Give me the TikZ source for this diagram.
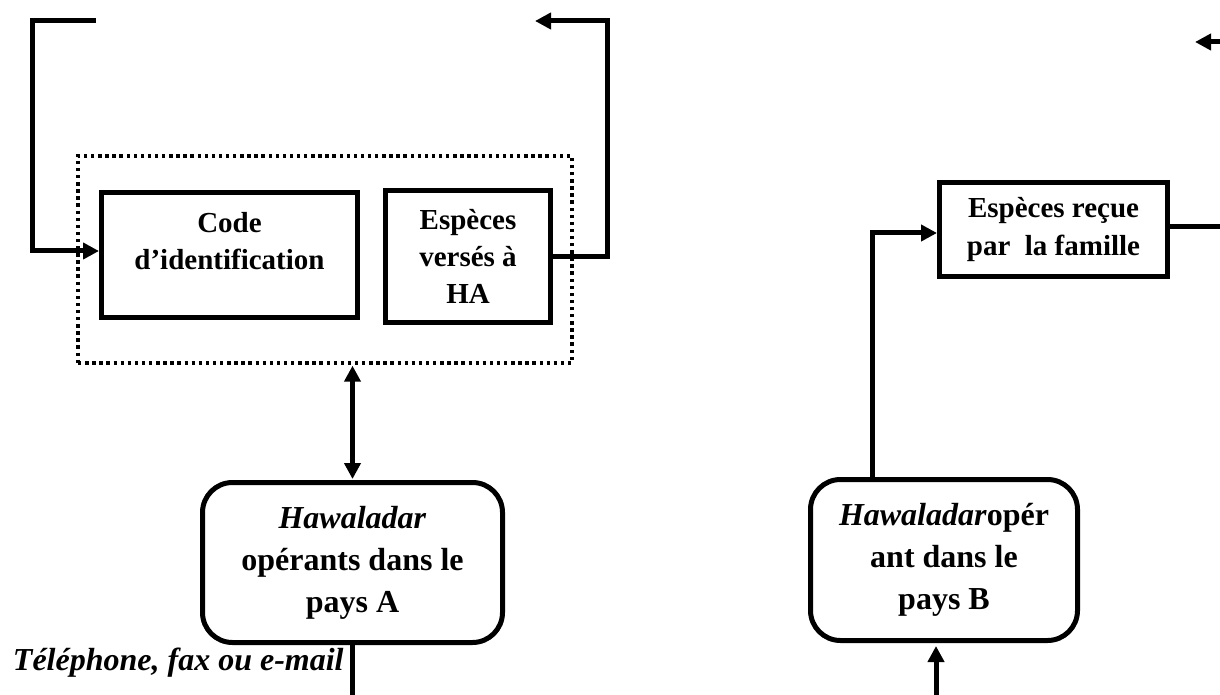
\documentclass[tikz,border=0pt]{standalone}
\usepackage{fontspec}
\setmainfont{Liberation Serif}
\usetikzlibrary{arrows.meta,calc}
\begin{document}
\begin{tikzpicture}[x=0.5pt,y=-0.5pt,
  conn/.style={line width=2.5pt},
  tri/.tip={Triangle[length=8pt,width=8pt]},
  sqbox/.style={draw,line width=2.5pt,rectangle,inner sep=0pt,align=center,
    font=\fontsize{14.5}{18.6}\selectfont\bfseries},
  rbox/.style={draw,line width=2.5pt,rectangle,rounded corners=15pt,inner sep=0pt,align=center,
    font=\fontsize{16}{21}\selectfont\bfseries},
  grp/.style={draw,line width=1.7pt,dash pattern=on 1.7pt off 1.85pt,rectangle,inner sep=0pt},
  txt/.style={align=center,inner sep=0pt,font=\fontsize{14.5}{18.6}\selectfont\bfseries},
  lbl/.style={inner sep=0pt,font=\fontsize{16}{21}\selectfont\bfseries\itshape}
]
\useasboundingbox (0,0) rectangle (1220,695);

% group (dotted)
\node[grp, minimum width=247pt, minimum height=103.5pt] (group) at (325,259.5) {};

% top boxes
\node[sqbox, minimum width=128pt, minimum height=62.5pt] (code) at (229.5,255) {};
\node[txt] (codetxt) at (229.5,241) {Code\\d’identification};
\node[sqbox, minimum width=82.5pt, minimum height=66pt] (esp) at (468,256.5) {Espèces\\versés à\\HA};

% hawaladar boxes
\node[rbox, minimum width=150pt, minimum height=80pt] (hA) at (352.5,562.5)
  {\textit{Hawaladar}\\opérants dans le\\pays A};
\node[rbox, minimum width=133.5pt, minimum height=80.5pt] (hB) at (944,560)
  {\textit{Hawaladar}opér\\ant dans le\\pays B};

% box received
\node[sqbox, minimum width=114pt, minimum height=47pt] (recue) at (1053.5,229.5)
  {Espèces reçue\\par\ \ la famille};

% label
\node[lbl, anchor=east] (tel) at (344,663) {Téléphone, fax ou e-mail};

% left loop into code
\coordinate (tl) at (96,21);
\coordinate (tlc) at (32,21);
\coordinate (tlb) at (32,251);
\draw[conn,-{tri}] (tl) -- (tlc) -- (tlb) -- (tlb -| code.west);

% right loop from esp
\coordinate (er) at (607,257);
\coordinate (tr) at (607,21);
\coordinate (ta) at (535,21);
\draw[conn,-{tri}] (er -| esp.east) -- (er) -- (tr) -- (ta);

% double arrow group <-> hA
\draw[conn,{tri}-{tri},shorten <=0.5pt,shorten >=0.5pt] (hA.north |- group.south) -- (hA.north);

% below hA
\coordinate (bA) at (352.5,700);
\draw[conn] (hA.south) -- (bA);

% into hB from below
\coordinate (bB) at (936,700);
\draw[conn,-{tri},shorten >=1.5pt] (bB) -- (bB |- hB.south);

% hB up to recue
\coordinate (uB) at (872,233);
\draw[conn,-{tri}] (uB |- hB.north) -- (uB) -- (uB -| recue.west);

% recue to right edge
\coordinate (rr) at (1225,227);
\draw[conn] (rr -| recue.east) -- (rr);

% top-right arrow
\coordinate (trr) at (1225,42);
\coordinate (trt) at (1195,42);
\draw[conn,-{tri}] (trr) -- (trt);
\end{tikzpicture}
\end{document}
